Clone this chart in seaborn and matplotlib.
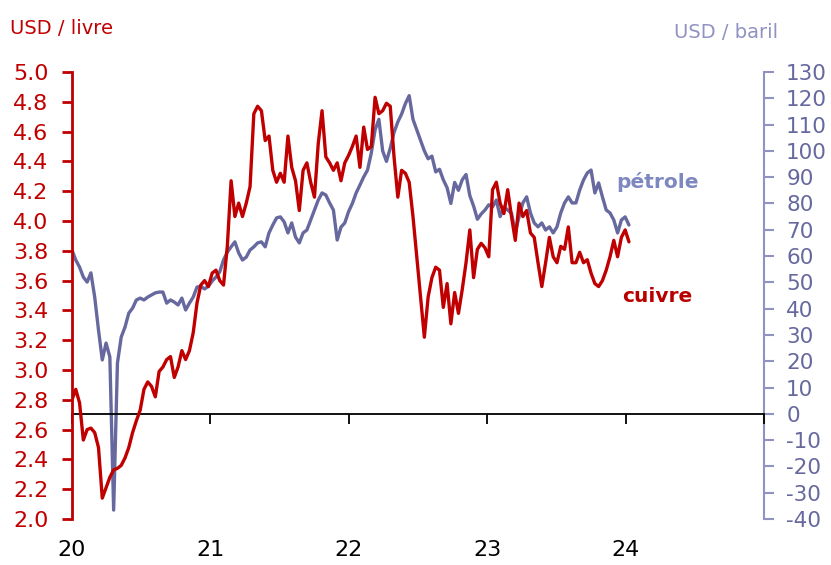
import numpy as np
import pandas as pd
import matplotlib
matplotlib.use("Agg")
import matplotlib.pyplot as plt
import seaborn as sns

# cuivre, USD / livre (un point tous les 10 jours a partir du 1er janvier 2020)
copper = [2.80, 2.87, 2.78, 2.53, 2.60, 2.61, 2.58, 2.48, 2.14, 2.21,
          2.28, 2.33, 2.34, 2.36, 2.41, 2.48, 2.58, 2.66, 2.73, 2.87,
          2.92, 2.89, 2.82, 2.99, 3.02, 3.07, 3.09, 2.95, 3.02, 3.13,
          3.07, 3.13, 3.25, 3.45, 3.57, 3.60, 3.56, 3.65, 3.67, 3.60,
          3.57, 3.83, 4.27, 4.03, 4.12, 4.03, 4.12, 4.23, 4.72, 4.77,
          4.74, 4.54, 4.57, 4.34, 4.26, 4.32, 4.26, 4.57, 4.36, 4.27,
          4.07, 4.34, 4.39, 4.26, 4.16, 4.52, 4.74, 4.43, 4.39, 4.34,
          4.39, 4.27, 4.39, 4.44, 4.50, 4.57, 4.36, 4.63, 4.48, 4.50,
          4.83, 4.72, 4.74, 4.79, 4.77, 4.43, 4.16, 4.34, 4.32, 4.26,
          4.03, 3.76, 3.49, 3.22, 3.49, 3.62, 3.69, 3.67, 3.42, 3.58,
          3.31, 3.52, 3.38, 3.54, 3.72, 3.94, 3.62, 3.81, 3.85, 3.82,
          3.76, 4.21, 4.26, 4.12, 4.05, 4.21, 4.03, 3.87, 4.12, 4.03,
          4.07, 3.92, 3.89, 3.72, 3.56, 3.72, 3.89, 3.76, 3.72, 3.83,
          3.81, 3.96, 3.72, 3.72, 3.79, 3.72, 3.74, 3.65, 3.58, 3.56,
          3.60, 3.67, 3.76, 3.87, 3.76, 3.89, 3.94, 3.86]

# petrole (WTI), USD / baril
oil = [62.3, 58.5, 55.8, 52.0, 50.1, 53.6, 44.4, 31.9, 20.5, 26.9,
       21.6, -36.6, 19.3, 29.2, 33.0, 38.3, 40.2, 43.3, 44.0, 43.3,
       44.4, 45.2, 46.0, 46.3, 46.3, 42.1, 43.3, 42.5, 41.4, 44.0,
       39.5, 42.1, 44.4, 48.2, 48.5, 47.5, 48.5, 50.5, 52.0, 54.0,
       58.5, 61.5, 63.5, 65.4, 61.2, 58.5, 59.6, 62.3, 63.5, 65.0,
       65.4, 63.5, 68.8, 71.8, 74.5, 74.9, 73.0, 68.8, 72.6, 67.2,
       65.0, 68.8, 69.9, 73.7, 77.5, 81.3, 84.0, 83.2, 80.2, 77.5,
       66.1, 71.0, 72.6, 76.9, 80.0, 84.0, 87.0, 90.1, 92.7, 99.2,
       108.0, 112.0, 100.0, 96.0, 101.0, 107.0, 111.0, 114.0, 118.0, 121.0,
       112.0, 108.0, 104.0, 100.0, 97.0, 98.0, 92.0, 93.0, 89.0, 86.0,
       80.0, 88.0, 85.0, 89.0, 91.0, 83.0, 79.0, 74.0, 76.0, 77.5,
       79.5, 78.7, 81.3, 75.0, 78.7, 77.5, 76.3, 69.0, 75.0, 80.2,
       82.5, 76.4, 72.6, 71.1, 72.6, 69.9, 71.1, 68.8, 71.1, 76.4,
       80.2, 82.5, 80.2, 80.2, 85.1, 88.9, 91.6, 92.7, 84.0, 87.8,
       82.5, 77.5, 76.4, 73.7, 68.8, 73.7, 74.9, 71.8]

dates = pd.date_range("2020-01-01", periods=len(copper), freq="10D")
year_ticks = [20, 21, 22, 23, 24]
year_labels = ["20", "21", "22", "23", "24"]
copper_ticks = [2.0, 2.2, 2.4, 2.6, 2.8, 3.0, 3.2, 3.4, 3.6, 3.8, 4.0, 4.2, 4.4, 4.6, 4.8, 5.0]
oil_ticks = list(range(-40, 131, 10))

red = "#C00000"
oil_col = "#66689E"
oil_axis = "#9092C2"

sns.set_style("white")
plt.rcParams["font.family"] = ["DejaVu Sans"]
plt.rcParams["axes.unicode_minus"] = False

df = pd.DataFrame({"date": dates, "cuivre": copper, "petrole": oil})
# annees en abscisse : 20 = 2020, 21 = 2021, ...
df["t"] = 20 + (df["date"] - pd.Timestamp("2020-01-01")).dt.days / 365.25

fig = plt.figure(figsize=(8.31, 5.65), dpi=100)
ax1 = fig.add_axes([0.0866, 0.0814, 0.8327, 0.7912])
ax2 = ax1.twinx()

sns.lineplot(data=df, x="t", y="petrole", ax=ax2, color=oil_col, linewidth=2.4)
sns.lineplot(data=df, x="t", y="cuivre", ax=ax1, color=red, linewidth=2.4)
ax1.set_zorder(ax2.get_zorder() + 1)
ax1.patch.set_visible(False)

ax1.set_xlim(20, 25)
ax1.set_ylim(2.0, 5.0)
ax2.set_ylim(-40, 130)
for a in (ax1, ax2):
    a.set_xlabel("")
    a.set_ylabel("")
    a.grid(False)

ax1.set_yticks(copper_ticks, [f"{v:.1f}" for v in copper_ticks])
ax1.set_xticks(year_ticks, year_labels)
ax1.tick_params(axis="x", length=0, pad=15, labelsize=16, labelcolor="black")
ax1.tick_params(axis="y", direction="out", length=7, width=2, color=red,
                labelcolor=red, labelsize=16, pad=10)
ax2.set_yticks(oil_ticks)
ax2.tick_params(axis="y", direction="out", length=7, width=1.5, color=oil_axis,
                labelcolor=oil_col, labelsize=15.5, pad=9)

for s in ("top", "right", "bottom"):
    ax1.spines[s].set_visible(False)
for s in ("top", "left", "bottom"):
    ax2.spines[s].set_visible(False)
ax1.spines["left"].set_color(red)
ax1.spines["left"].set_linewidth(2)
ax2.spines["right"].set_color(oil_axis)
ax2.spines["right"].set_linewidth(1.5)

# ligne du zero (petrole) avec les graduations annuelles
secax = ax1.secondary_xaxis(40 / 170)
secax.set_xticks(year_ticks + [25])
secax.tick_params(axis="x", direction="out", length=7, width=1.3,
                  color="black", labelbottom=False, labeltop=False)
secax.spines["bottom"].set_color("black")
secax.spines["bottom"].set_linewidth(1.3)

fig.text(10 / 831, 1 - 28 / 565, "USD / livre", color=red, fontsize=14,
         ha="left", va="center")
fig.text(778 / 831, 1 - 32 / 565, "USD / baril", color=oil_axis, fontsize=14,
         ha="right", va="center")
fig.text(657 / 831, 1 - 182 / 565, "pétrole", color="#7D87C0", fontsize=14.5,
         fontweight="bold", ha="center", va="center")
fig.text(657 / 831, 1 - 297 / 565, "cuivre", color="#B80000", fontsize=14.5,
         fontweight="bold", ha="center", va="center")

fig.savefig("out.png", dpi=100)
